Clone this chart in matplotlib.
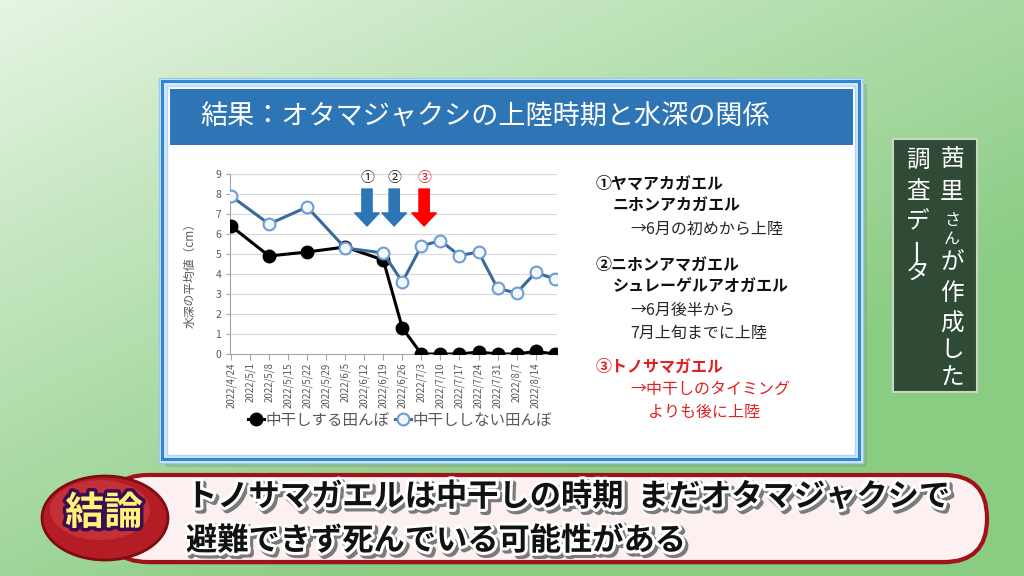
import numpy as np
import pandas as pd
import matplotlib
matplotlib.use("Agg")
import matplotlib.pyplot as plt
import matplotlib.patheffects as pe
from matplotlib.patches import Rectangle, FancyBboxPatch, Ellipse

plt.rcParams['font.family'] = ['Noto Sans CJK JP', 'DejaVu Sans']

# ---------------- data ----------------
title = "結果：オタマジャクシの上陸時期と水深の関係"
tick_labels = ["2022/4/24", "2022/5/1", "2022/5/8", "2022/5/15", "2022/5/22", "2022/5/29",
               "2022/6/5", "2022/6/12", "2022/6/19", "2022/6/26", "2022/7/3", "2022/7/10",
               "2022/7/17", "2022/7/24", "2022/7/31", "2022/8/7", "2022/8/14"]
obs_dates = ["2022/4/24", "2022/5/8", "2022/5/22", "2022/6/5", "2022/6/19", "2022/6/26",
             "2022/7/3", "2022/7/10", "2022/7/17", "2022/7/24", "2022/7/31", "2022/8/7",
             "2022/8/14", "2022/8/21"]
dry_vals = [6.4, 4.9, 5.1, 5.35, 4.7, 1.3, 0, 0, 0, 0.1, 0, 0, 0.13, 0]
nodry_vals = [7.9, 6.5, 7.35, 5.3, 5.05, 3.6, 5.4, 5.67, 4.92, 5.1, 3.28, 3.05, 4.08, 3.75]
series_names = ["中干しする田んぼ", "中干ししない田んぼ"]
y_label = "水深の平均値（cm）"
arrow_dates = ["2022/6/13", "2022/6/23", "2022/7/4"]
arrow_marks = ["①", "②", "③"]
arrow_colors = ["#2E75B6", "#2E75B6", "#FF0000"]
mark_colors = ["#222222", "#222222", "#E02020"]

notes = [
    ("①ヤマアカガエル", 596, 184, "bold", "#111111"),
    ("ニホンアカガエル", 613, 206, "bold", "#111111"),
    ("→6月の初めから上陸", 630, 229, "normal", "#262626"),
    ("②ニホンアマガエル", 596, 265, "bold", "#111111"),
    ("シュレーゲルアオガエル", 613, 287, "bold", "#111111"),
    ("→6月後半から", 630, 310, "normal", "#262626"),
    ("7月上旬までに上陸", 630, 333, "normal", "#262626"),
    ("③トノサマガエル", 596, 367, "bold", "#E02020"),
    ("→中干しのタイミング", 630, 389, "normal", "#E02020"),
    ("よりも後に上陸", 648, 412, "normal", "#E02020"),
]
side_col1 = "茜里さんが作成した"
side_col2 = "調査データ"
badge = "結論"
concl1 = "トノサマガエルは中干しの時期  まだオタマジャクシで"
concl2 = "避難できず死んでいる可能性がある"

# ---------------- figure ----------------
fig = plt.figure(figsize=(10.24, 5.76), dpi=100)
bg = fig.add_axes([0, 0, 1, 1])
bg.set_xlim(0, 1024)
bg.set_ylim(576, 0)
bg.axis('off')

# green gradient background
yy, xx = np.mgrid[0:576:4, 0:1024:4]
t = np.clip(0.6 * xx / 1024 + 0.7 * yy / 576 + 0.08, 0, 1) ** 0.9
c0 = np.array([0.95, 0.98, 0.94])
c1 = np.array([0.54, 0.80, 0.51])
img = c0[None, None, :] * (1 - t[..., None]) + c1[None, None, :] * t[..., None]
bg.imshow(img, extent=(0, 1024, 576, 0), aspect='auto', zorder=0, interpolation='bilinear')

# panel
bg.add_patch(Rectangle((165, 84), 702, 383, facecolor='#7f9f80', alpha=0.45, zorder=1, lw=0))
bg.add_patch(Rectangle((159, 78), 704, 385, facecolor='#D4E8F8', edgecolor='#9CC8EC', lw=1, zorder=2))
bg.add_patch(Rectangle((162, 81), 697, 378, facecolor='none', edgecolor='#2E86D8', lw=2.2, zorder=3))
bg.add_patch(Rectangle((167, 86), 688, 369, facecolor='white', edgecolor='#B8D4EE', lw=1, zorder=3))
bg.add_patch(Rectangle((170, 89), 683, 56, facecolor='#2E75B6', edgecolor='none', zorder=4))
bg.text(200, 117, title, color='white', fontsize=19.5, va='center', ha='left', zorder=5)

# notes
for txt, x, y, w, c in notes:
    bg.text(x, y, txt, fontsize=11.5, fontweight=w, color=c, va='center', ha='left', zorder=5)

# side box
bg.add_patch(Rectangle((893, 139), 84, 253, facecolor='#2F4A35', edgecolor='#C9D6C4', lw=1.5, zorder=5))
col1_y = [160, 192, 221, 239, 263, 294, 324, 351, 378]
col1_fs = [17, 17, 11.5, 11.5, 17, 17, 17, 17, 17]
for ch, y, fs in zip(side_col1, col1_y, col1_fs):
    bg.text(952, y, ch, color='white', fontsize=fs, ha='center', va='center', zorder=6)
col2_y = [160, 192, 222, 248, 272]
for ch, y in zip(side_col2, col2_y):
    rot = 90 if ch == "ー" else 0
    bg.text(918, y, ch, color='white', fontsize=17, ha='center', va='center', rotation=rot, zorder=6)

# conclusion banner
bg.add_patch(FancyBboxPatch((110, 479), 876, 86, boxstyle="round,pad=0,rounding_size=43",
                            facecolor='#6b6b6b', edgecolor='none', alpha=0.35, zorder=6))
bg.add_patch(FancyBboxPatch((105, 475), 882, 87, boxstyle="round,pad=0,rounding_size=43",
                            facecolor='#FCF1F0', edgecolor='#A0121A', lw=3, zorder=7))
bg.add_patch(Ellipse((105, 518), 126, 84, facecolor='#B51D25', edgecolor='#7E0C12', lw=2, zorder=8))
bg.add_patch(Ellipse((100, 510), 100, 60, facecolor='#D2434A', edgecolor='none', alpha=0.5, zorder=8))
bg.text(104, 513, badge, fontsize=28, fontweight='bold', color='#FFF27A', ha='center', va='center', zorder=9,
        path_effects=[pe.Stroke(linewidth=5, foreground='#3B0F4F'), pe.Normal()])
shadow = [pe.Stroke(linewidth=5, foreground='#7a7a7a', offset=(2, -2)),
          pe.Stroke(linewidth=4.5, foreground='white'), pe.Normal()]
bg.text(186, 497, concl1, fontsize=22.5, fontweight='bold', color='#111111', ha='left', va='center',
        zorder=9, path_effects=shadow)
bg.text(186, 541, concl2, fontsize=22.5, fontweight='bold', color='#111111', ha='left', va='center',
        zorder=9, path_effects=shadow)

# ---------------- chart ----------------
W, H = 1024, 576
ax = fig.add_axes([229.6 / W, (H - 354) / H, 327.8 / W, 180 / H])
ax.set_facecolor('none')
ax.set_zorder(10)

x_obs = pd.to_datetime(obs_dates, format="%Y/%m/%d")
x_ticks = pd.to_datetime(tick_labels, format="%Y/%m/%d")

ax.plot(x_obs, dry_vals, color='black', lw=2.2, marker='o', markersize=9,
        markerfacecolor='black', markeredgecolor='black', label=series_names[0], zorder=3)
ax.plot(x_obs, nodry_vals, color='#3A6A9C', lw=2.2, marker='o', markersize=8.5,
        markerfacecolor='#F2F7FC', markeredgecolor='#6C9ED4', markeredgewidth=1.5,
        label=series_names[1], zorder=4)

ax.set_xlim(pd.Timestamp("2022-04-23 12:00"), pd.Timestamp("2022-08-22 00:00"))
ax.set_ylim(0, 9)
ax.set_yticks(range(0, 10))
ax.set_xticks(x_ticks)
ax.set_xticklabels(tick_labels, rotation=90, fontsize=7, color='#595959')
ax.tick_params(axis='y', labelsize=7.5, labelcolor='#595959', length=3, color='#A6A6A6', pad=3)
ax.tick_params(axis='x', length=4, color='#A6A6A6', pad=2)
ax.grid(axis='y', color='#D9D9D9', lw=0.8)
ax.set_axisbelow(True)
for s in ['top', 'right']:
    ax.spines[s].set_visible(False)
ax.spines['left'].set_color('#A6A6A6')
ax.spines['bottom'].set_color('#A6A6A6')
ax.set_ylabel(y_label, fontsize=8.5, color='#595959')
ax.yaxis.set_label_coords(-0.1, 0.45)

# arrows and marks
for d, m, ac, mc in zip(arrow_dates, arrow_marks, arrow_colors, mark_colors):
    xd = pd.to_datetime(d, format="%Y/%m/%d")
    ax.annotate('', xy=(xd, 6.4), xytext=(xd, 8.25),
                arrowprops=dict(arrowstyle='simple,head_length=0.47,head_width=0.88,tail_width=0.37',
                                mutation_scale=20, color=ac, shrinkA=0, shrinkB=0), zorder=5)
    ax.text(xd, 8.82, m, color=mc, fontsize=10, ha='center', va='center', zorder=5)

leg = ax.legend(loc='center', bbox_to_anchor=(0.52, (354 - 420) / 180), ncol=2, frameon=False,
                fontsize=11.2, handlelength=1.0, handletextpad=0.1, columnspacing=0.4,
                borderaxespad=0)
for tx in leg.get_texts():
    tx.set_color('#595959')

fig.savefig("out.png", dpi=100)
